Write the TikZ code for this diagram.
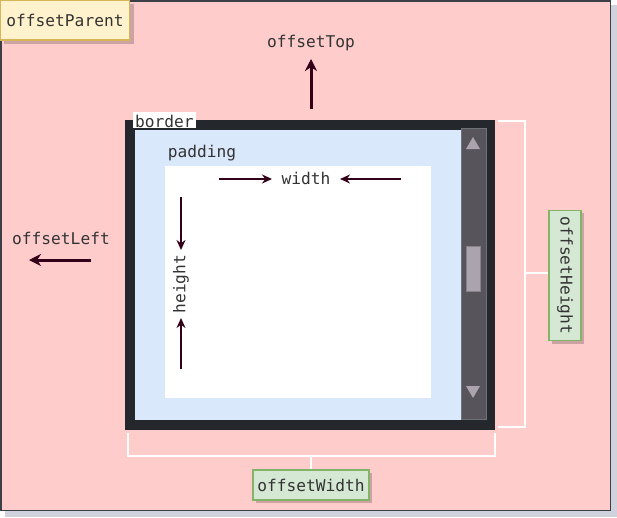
\documentclass[tikz,border=0pt]{standalone}
\usepackage{fontspec}
\setmonofont{DejaVu Sans Mono}
\usetikzlibrary{arrows.meta}
\definecolor{bgpink}{HTML}{FFCCCC}
\definecolor{frame}{HTML}{3C3F46}
\definecolor{shadowc}{HTML}{D0D3DE}
\definecolor{txt}{HTML}{333333}
\definecolor{yelfill}{HTML}{FFF2CC}
\definecolor{yeldraw}{HTML}{D6B656}
\definecolor{grnfill}{HTML}{D5E8D4}
\definecolor{grndraw}{HTML}{82B366}
\definecolor{bordc}{HTML}{24272B}
\definecolor{padc}{HTML}{DAE8FC}
\definecolor{scrollc}{HTML}{58545C}
\definecolor{scrolledge}{HTML}{6E7278}
\definecolor{thumbc}{HTML}{ABA3AD}
\definecolor{arrowc}{HTML}{33001A}
\tikzset{
  lbl/.style={font=\ttfamily\fontsize{16.2}{19}\selectfont, text=txt, inner sep=0pt},
  tag/.style={lbl, draw, line width=1.2pt, minimum height=30pt, inner xsep=4pt},
  tagshadow/.style={fill=black, opacity=0.2},
  bigarrow/.style={draw=arrowc, line width=3pt, -{Stealth[length=12pt,width=12pt]}},
  smallarrow/.style={draw=arrowc, line width=2pt, -{Stealth[length=10pt,width=9pt]}},
  bracket/.style={draw=white, line width=2pt},
}
\begin{document}
\begin{tikzpicture}[x=1pt,y=-1pt]
\useasboundingbox (0,0) rectangle (617,517);
% outer frame
\fill[shadowc] (5,5) rectangle (616.5,516.5);
\fill[bgpink, draw=frame, line width=1.5pt] (0.75,0.75) rectangle (610.5,510.5);
% offsetParent tag
\fill[tagshadow] (4,4) rectangle (134,44);
\node[tag, fill=yelfill, draw=yeldraw, minimum width=129pt, minimum height=40pt] (parent) at (65,20) {offsetParent};
% offsetTop
\node[lbl] (toplbl) at (311,43) {offsetTop};
\coordinate (topfrom) at (311,109);
\coordinate (topto) at (311,59);
\draw[bigarrow] (topfrom) -- (topto);
% offsetLeft
\node[lbl] (leftlbl) at (61,238) {offsetLeft};
\coordinate (leftfrom) at (91,260);
\coordinate (leftto) at (29,260);
\draw[bigarrow] (leftfrom) -- (leftto);
% border box
\fill[bordc] (125,120) rectangle (495,430);
\fill[padc] (135,130) rectangle (461,420);
\node[fill=white, inner sep=0pt, minimum width=63pt, minimum height=16pt] (bordbg) at (164.5,120) {};
\node[lbl, anchor=base west] (bordlbl) at (135,127.5) {border};
% scrollbar
\fill[scrollc, draw=scrolledge, line width=1pt] (461,128.5) rectangle (486,419.5);
\fill[thumbc, draw=thumbc!80!black, line width=0.6pt] (466,246) rectangle (480,291);
\fill[thumbc] (466,149) -- (480,149) -- (473,137) -- cycle;
\fill[thumbc] (466,386) -- (480,386) -- (473,398) -- cycle;
% content
\fill[white] (165,166) rectangle (431,398);
\node[lbl] (padlbl) at (202,153) {padding};
\node[lbl] (widthlbl) at (306,178) {width};
\coordinate (w1a) at (219,179);
\coordinate (w1b) at (272,179);
\coordinate (w2a) at (401,179);
\coordinate (w2b) at (340,179);
\draw[smallarrow] (w1a) -- (w1b);
\draw[smallarrow] (w2a) -- (w2b);
\node[lbl, rotate=90] (heightlbl) at (181,284) {height};
\coordinate (h1a) at (181,197);
\coordinate (h1b) at (181,250);
\coordinate (h2a) at (181,369);
\coordinate (h2b) at (181,318);
\draw[smallarrow] (h1a) -- (h1b);
\draw[smallarrow] (h2a) -- (h2b);
% offsetHeight bracket and tag
\coordinate (hb1) at (498,121);
\coordinate (hb2) at (525,121);
\coordinate (hb3) at (525,427);
\coordinate (hb4) at (498,427);
\draw[bracket] (hb1) -- (hb2) -- (hb3) -- (hb4);
\fill[tagshadow] (552,213) rectangle (584,344);
\node[tag, fill=grnfill, draw=grndraw, rotate=-90, minimum width=130pt, minimum height=32pt] (htag) at (565,275.5) {offsetHeight};
\coordinate (htick) at (525,273);
\draw[bracket] (htick) -- (htick -| htag.south);
% offsetWidth bracket and tag
\coordinate (wb1) at (128,433);
\coordinate (wb2) at (128,456);
\coordinate (wb3) at (495,456);
\coordinate (wb4) at (495,433);
\draw[bracket] (wb1) -- (wb2) -- (wb3) -- (wb4);
\fill[tagshadow] (256,473) rectangle (372,503);
\node[tag, fill=grnfill, draw=grndraw, minimum width=116pt, minimum height=30pt] (wtag) at (311,485) {offsetWidth};
\coordinate (wtick) at (311,456);
\draw[bracket] (wtick) -- (wtag.north);
\end{tikzpicture}
\end{document}
